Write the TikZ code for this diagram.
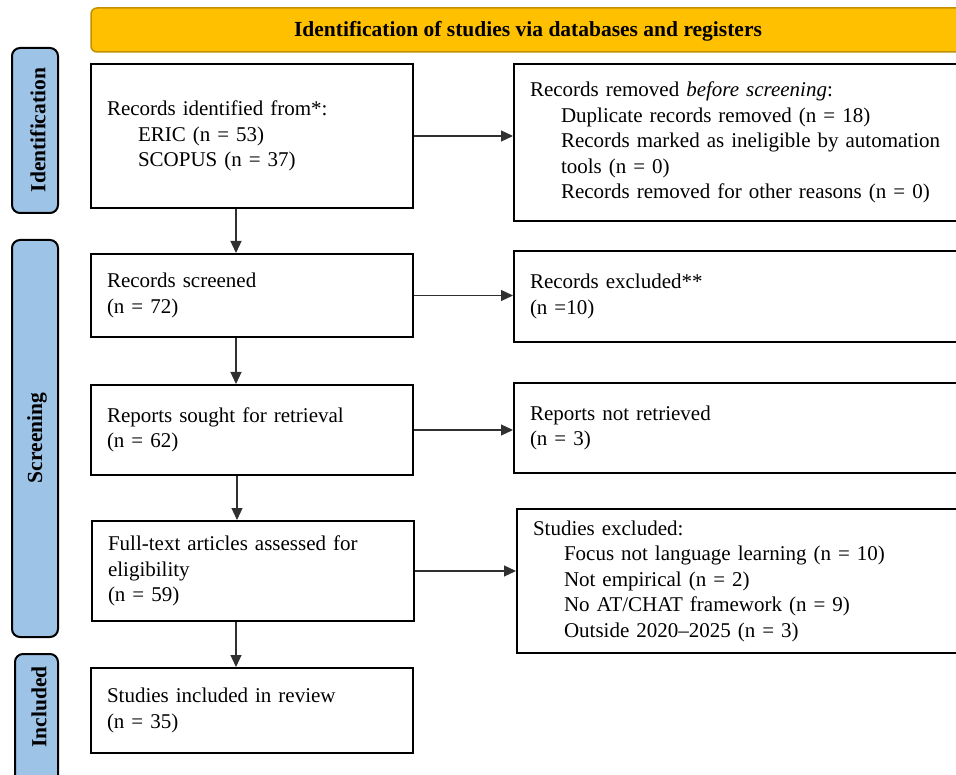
\documentclass[tikz,border=0pt]{standalone}
\usepackage{fontspec}
\setmainfont{Liberation Serif}
\usepackage{xcolor}
\usepackage{tikz}
\usetikzlibrary{arrows.meta}
\definecolor{banner}{HTML}{FFC000}
\definecolor{bannerline}{HTML}{C09000}
\definecolor{phase}{HTML}{9DC3E6}
\definecolor{conn}{HTML}{303030}
\newcommand{\indentline}{\hspace*{31pt}}
\tikzset{
  box/.style={draw=black, line width=2pt, anchor=north west, align=left,
    inner xsep=16pt, inner ysep=0pt, font=\fontsize{21}{25.5}\selectfont},
  head/.style={draw=bannerline, fill=banner, line width=1.5pt, rounded corners=6pt,
    font=\bfseries\fontsize{21.5}{24}\selectfont},
  phasebar/.style={draw=black, fill=phase, line width=2pt, rounded corners=8pt},
  phaselab/.style={rotate=90, font=\bfseries\fontsize{21.5}{24}\selectfont},
  arr/.style={draw=conn, line width=1.2pt, -{Triangle[length=12pt,width=11pt]}},
}

\begin{document}
\begin{tikzpicture}[x=1pt,y=-1pt]
  \useasboundingbox (0,0) rectangle (956,775);

  % banner and phase bars
  \draw[head] (91,8) rectangle (965,52);
  \node[head, draw=none, fill=none] (title) at (528,31) {Identification of studies via databases and registers};

  \draw[phasebar] (12,48) rectangle (58,213);
  \node[phaselab] (idlab) at (38,130) {Identification};
  \draw[phasebar] (12,240) rectangle (58,637);
  \node[phaselab] (scrlab) at (37,438) {Screening};
  \draw[phasebar] (15,654) rectangle (58,800);
  \node[phaselab] (inclab) at (39,707) {Included};

  % left column
  \node[box, text width=290pt, minimum height=144pt] (idbox) at (90,63)
    {Records identified from*:\\ \indentline ERIC (n = 53)\\ \indentline SCOPUS (n = 37)};
  \node[box, text width=290pt, minimum height=83pt] (screenbox) at (90,253)
    {Records screened\\ (n = 72)};
  \node[box, text width=290pt, minimum height=90pt] (soughtbox) at (90,384)
    {Reports sought for retrieval\\ (n = 62)};
  \node[box, text width=290pt, minimum height=100pt] (fullbox) at (91,520)
    {Full-text articles assessed for\\ eligibility\\ (n = 59)};
  \node[box, text width=290pt, minimum height=85pt] (inclbox) at (90,667)
    {Studies included in review\\ (n = 35)};

  % right column
  \node[box, text width=430pt, minimum height=157pt] (removedbox) at (513,63)
    {Records removed \textit{before screening}:\\
     \indentline Duplicate records removed (n = 18)\\
     \indentline Records marked as ineligible by automation\\
     \indentline tools (n = 0)\\
     \indentline Records removed for other reasons (n = 0)};
  \node[box, text width=430pt, minimum height=91pt] (exclbox) at (513,250)
    {Records excluded**\\ (n =10)};
  \node[box, text width=430pt, minimum height=90pt] (notretbox) at (513,382)
    {Reports not retrieved\\ (n = 3)};
  \node[box, text width=427pt, minimum height=144pt] (studexclbox) at (516,508)
    {Studies excluded:\\
     \indentline Focus not language learning (n = 10)\\
     \indentline Not empirical (n = 2)\\
     \indentline No AT/CHAT framework (n = 9)\\
     \indentline Outside 2020--2025 (n = 3)};

  % connectors
  \draw[arr] ([xshift=-16pt]idbox.south) -- ([xshift=-16pt]idbox.south |- screenbox.north);
  \draw[arr] ([xshift=-16pt]screenbox.south) -- ([xshift=-16pt]screenbox.south |- soughtbox.north);
  \draw[arr] ([xshift=-15pt]soughtbox.south) -- ([xshift=-15pt]soughtbox.south |- fullbox.north);
  \draw[arr] ([xshift=-17pt]fullbox.south) -- ([xshift=-17pt]fullbox.south |- inclbox.north);

  \draw[arr] (idbox.east) -- (idbox.east -| removedbox.west);
  \draw[arr] (screenbox.east) -- (screenbox.east -| exclbox.west);
  \draw[arr] (soughtbox.east) -- (soughtbox.east -| notretbox.west);
  \draw[arr] (fullbox.east) -- (fullbox.east -| studexclbox.west);
\end{tikzpicture}
\end{document}
